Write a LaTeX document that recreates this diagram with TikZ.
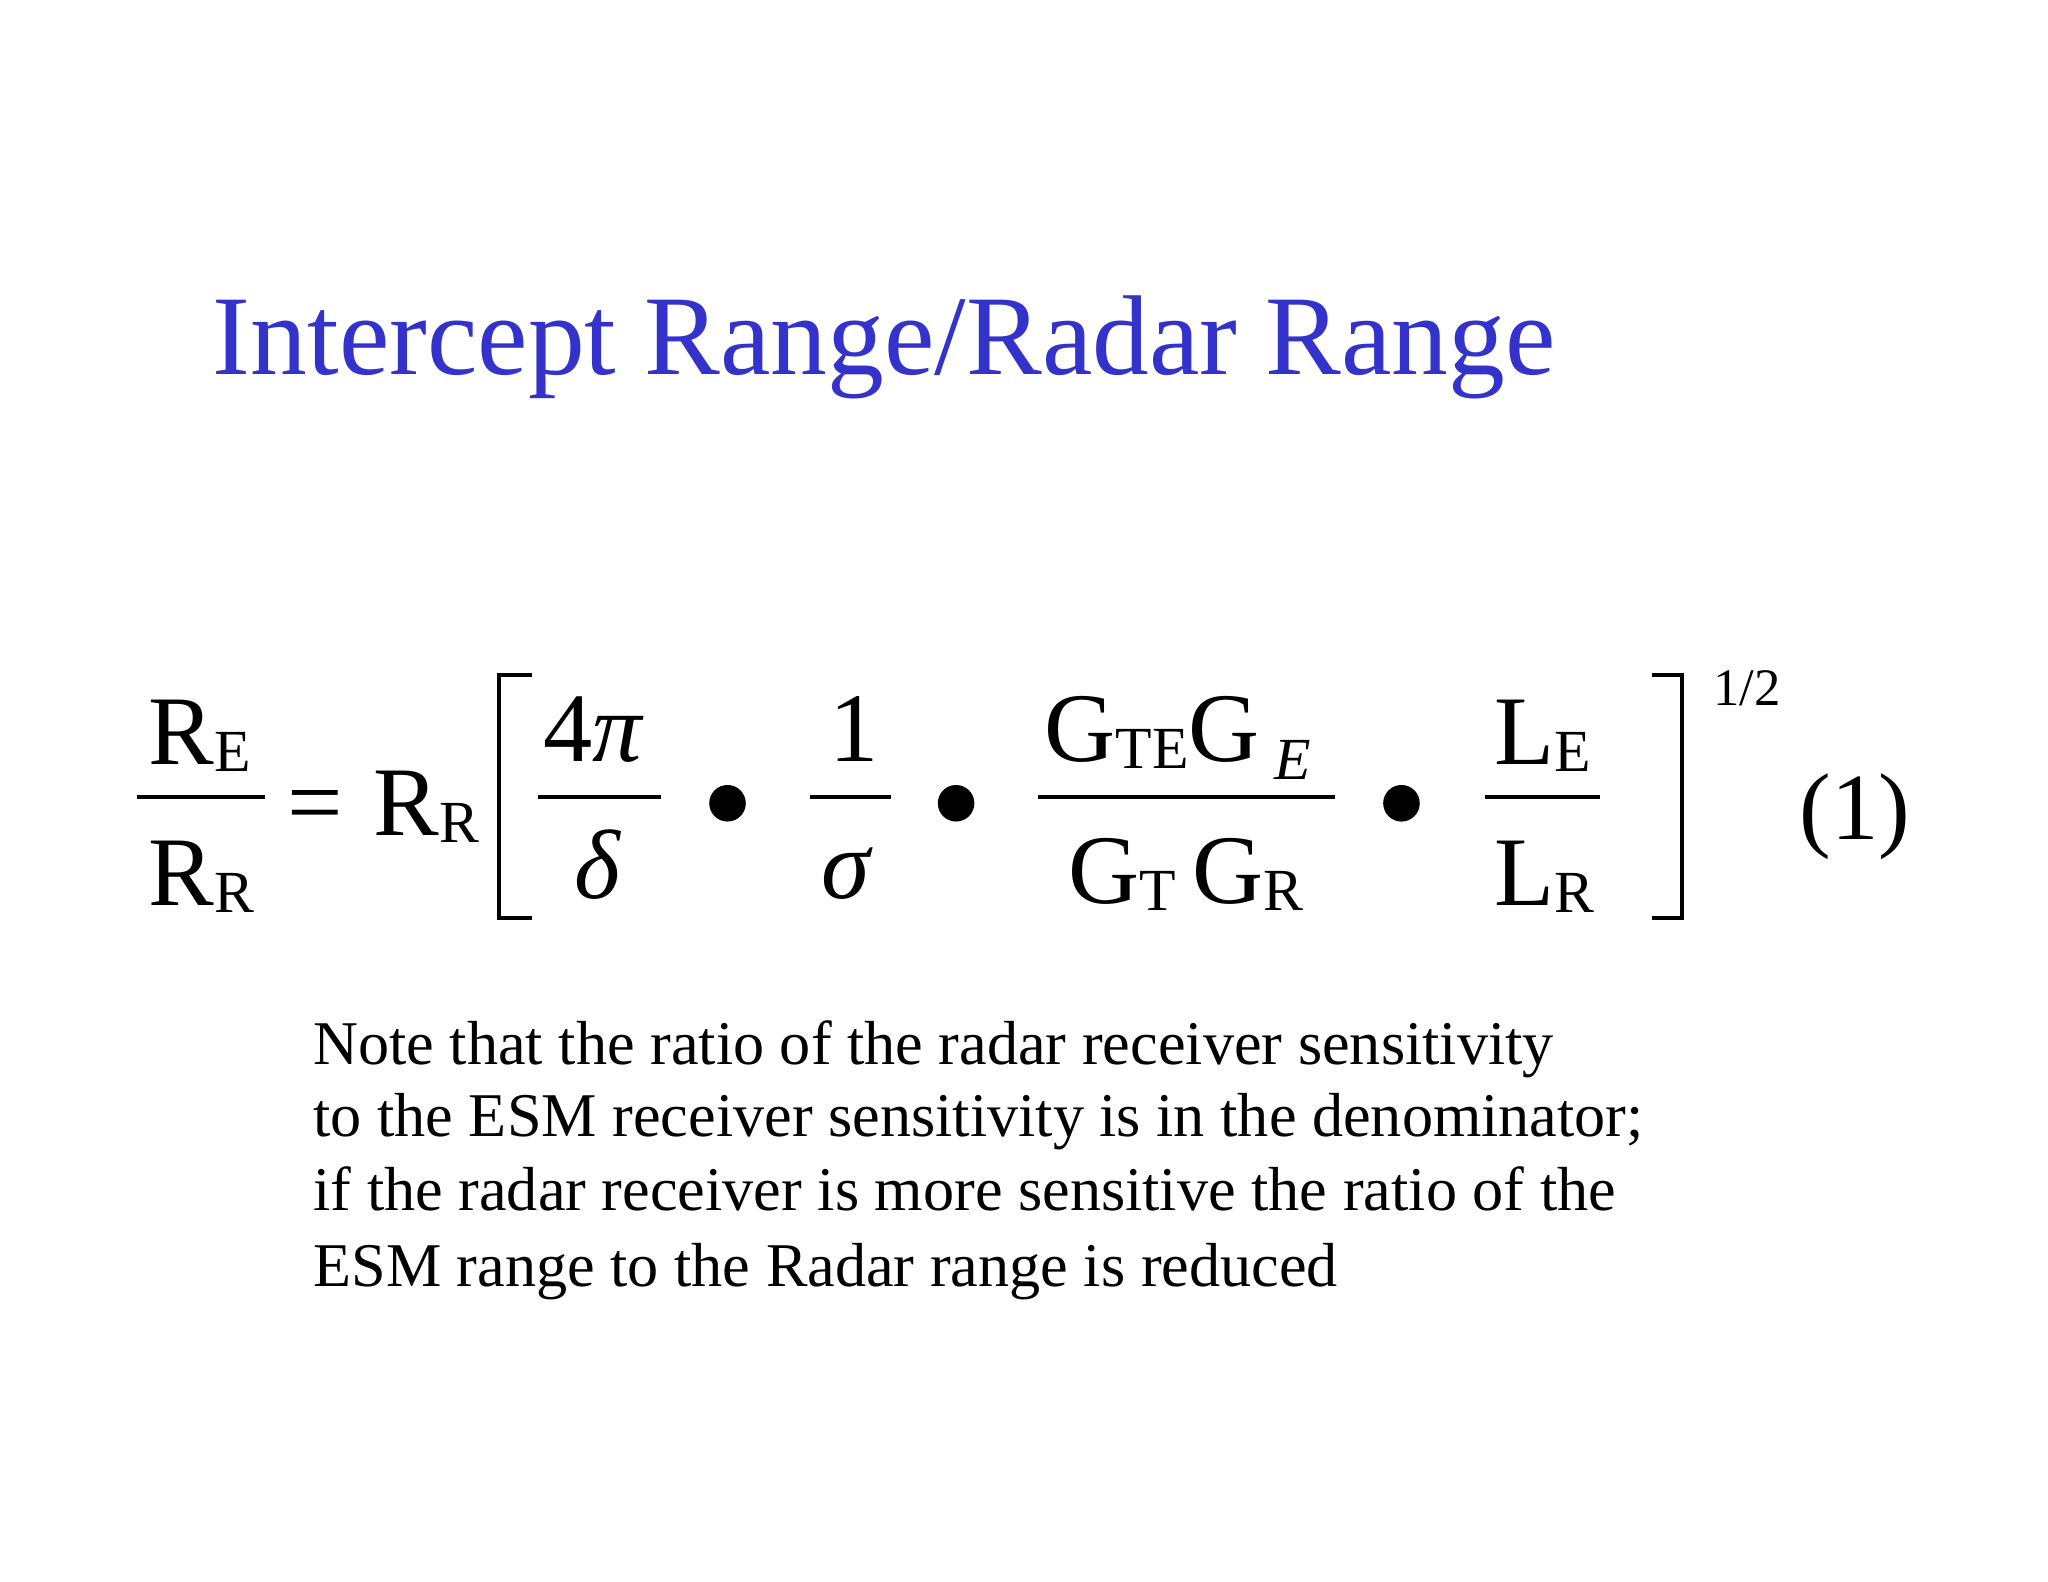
\documentclass[tikz,border=0pt]{standalone}
\usepackage{fontspec}
\setmainfont{Liberation Serif}
\begin{document}
\begin{tikzpicture}[x=0.013061cm,y=-0.013061cm,
  t/.style={anchor=base west,inner sep=0pt,outer sep=0pt},
  eq/.style={t,font=\fontsize{28}{30}\selectfont},
  note/.style={t,font=\fontsize{17.7}{20}\selectfont},
  bar/.style={line width=1.1pt},
  dotb/.style={fill=black}]
\newcommand{\sbx}[1]{\raisebox{-2pt}{\fontsize{17}{18}\selectfont #1}}
\useasboundingbox (0,0) rectangle (1568,1211);
\node[t,font=\fontsize{32.3}{36}\selectfont,text={rgb,255:red,51;green,51;blue,204}] (title) at (163,287) {Intercept Range/Radar Range};
% left ratio
\node[eq] (re) at (114,585) {R\sbx{E}};
\node[eq] (rr) at (114,693) {R\sbx{R}};
\draw[bar] (105,610) -- (203,610);
\node[eq] (eqs) at (220,640) {=};
\node[eq] (rr2) at (286,640) {R\sbx{R}};
% left bracket
\draw[bar] (407,517) -- (382,517) -- (382,703) -- (407,703);
\node[eq] (n1) at (416,583) {4{\itshape π}};
\node[eq] (d1) at (440,688) {\itshape δ};
\draw[bar] (412,610) -- (506,610);
\fill[dotb] (557,615) circle (14);
\node[eq] (n2) at (635,583) {1};
\node[eq] (d2) at (629,688) {\itshape σ};
\draw[bar] (620,610) -- (682,610);
\fill[dotb] (732,615) circle (14);
\node[eq] (n3) at (800,583) {G\sbx{TE}G\raisebox{-5pt}{\fontsize{17}{18}\selectfont\itshape\ E}};
\node[eq] (d3) at (818,692) {G\sbx{T}\,G\sbx{R}};
\draw[bar] (795,610) -- (1022,610);
\fill[dotb] (1073,615) circle (14);
\node[eq] (n4) at (1144,585) {L\sbx{E}};
\node[eq] (d4) at (1144,693) {L\sbx{R}};
\draw[bar] (1137,610) -- (1225,610);
\draw[bar] (1265,517) -- (1288,517) -- (1288,703) -- (1265,703);
\node[t,font=\fontsize{15}{16}\selectfont] (half) at (1312,540) {1/2};
\node[t,font=\fontsize{27}{30}\selectfont] (num) at (1378,643) {(1)};
% note
\node[note] (l1) at (240,815) {Note that the ratio of the radar receiver sensitivity};
\node[note] (l2) at (240,870) {to the ESM receiver sensitivity is in the denominator;};
\node[note] (l3) at (240,927) {if the radar receiver is more sensitive the ratio of the};
\node[note] (l4) at (240,985) {ESM range to the Radar range is reduced};
\end{tikzpicture}
\end{document}
